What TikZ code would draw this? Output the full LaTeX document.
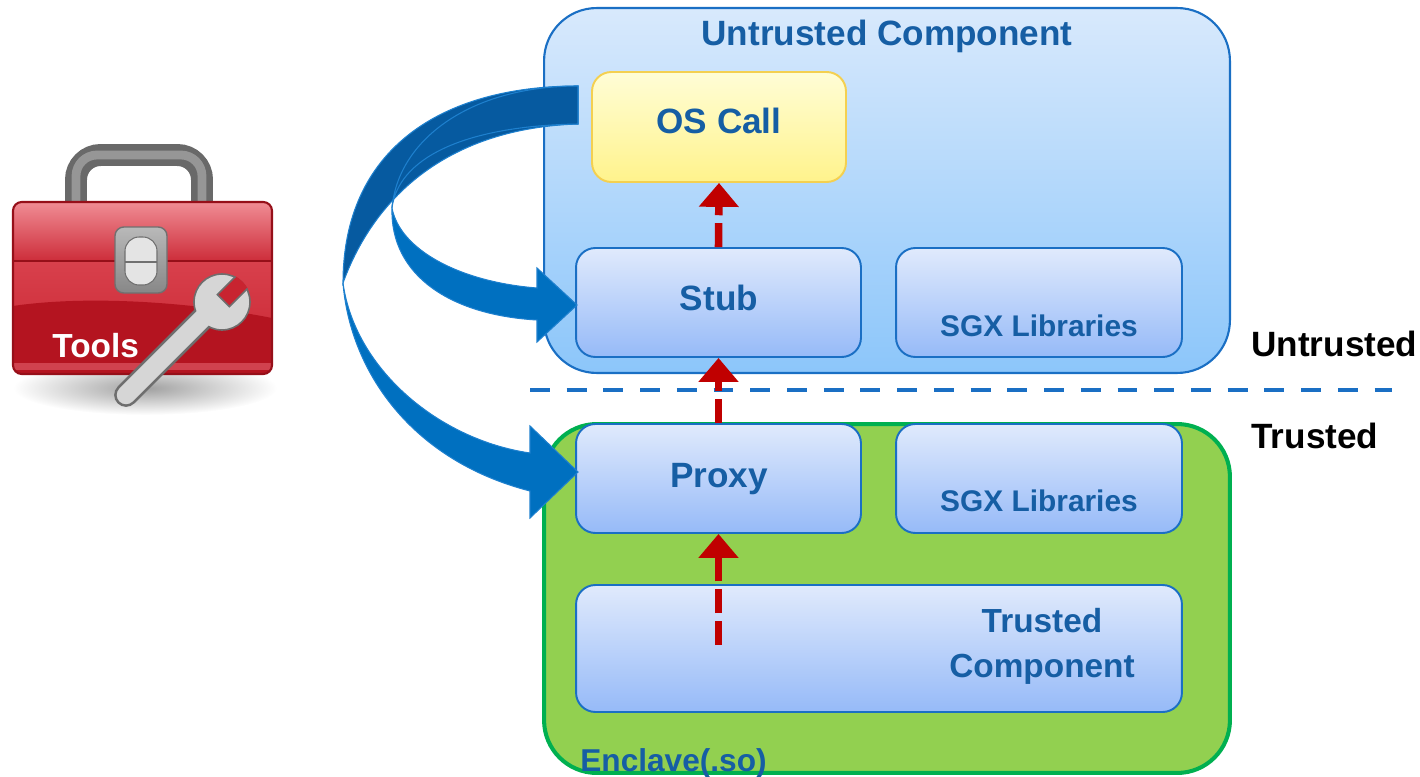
\documentclass[tikz,border=0pt]{standalone}
\usepackage{fontspec}
\setmainfont{Liberation Sans}
\usepackage{xcolor}
\usetikzlibrary{positioning,arrows.meta}

\definecolor{txtblue}{RGB}{22,94,164}
\definecolor{edgeblue}{RGB}{26,111,196}
\definecolor{cmpTop}{RGB}{216,233,252}
\definecolor{cmpBot}{RGB}{140,198,250}
\definecolor{boxTop}{RGB}{224,234,252}
\definecolor{boxBot}{RGB}{150,186,248}
\definecolor{callTop}{RGB}{255,253,214}
\definecolor{callBot}{RGB}{255,243,140}
\definecolor{callEdge}{RGB}{244,208,80}
\definecolor{encFill}{RGB}{146,208,80}
\definecolor{encEdge}{RGB}{0,176,80}
\definecolor{callRed}{RGB}{192,0,0}
\definecolor{flowFront}{RGB}{0,112,192}
\definecolor{flowBack}{RGB}{6,90,160}
\definecolor{flowEdge}{RGB}{30,128,206}
\definecolor{tbLidTop}{RGB}{240,140,148}
\definecolor{tbLidBot}{RGB}{205,45,58}
\definecolor{tbBodyTop}{RGB}{216,64,76}
\definecolor{tbBody}{RGB}{200,36,48}
\definecolor{tbDark}{RGB}{180,20,32}
\definecolor{tbLow}{RGB}{208,66,78}
\definecolor{tbEdge}{RGB}{150,15,25}
\definecolor{tbHandle}{RGB}{105,105,105}
\definecolor{tbHandleHi}{RGB}{150,150,150}
\definecolor{latchEdge}{RGB}{112,112,112}
\definecolor{latchTop}{RGB}{185,185,185}
\definecolor{latchBot}{RGB}{135,135,135}
\definecolor{latchIn}{RGB}{228,228,228}
\definecolor{wrEdge}{RGB}{110,110,110}
\definecolor{wrFill}{RGB}{214,214,214}

\begin{document}
\begin{tikzpicture}[x=0.02cm,y=-0.02cm,>=Latex,
  font=\bfseries\fontsize{20}{24}\selectfont,
  zone/.style={draw=edgeblue, line width=1.2pt, rounded corners=30pt, minimum width=13.72cm, inner sep=0pt},
  part/.style={draw=edgeblue, line width=1.1pt, rounded corners=11pt, top color=boxTop, bottom color=boxBot, minimum height=2.18cm, inner sep=0pt},
  lbl/.style={text=txtblue, anchor=base, inner sep=0pt},
  side/.style={anchor=base west, inner sep=0pt},
  hop/.style={draw=callRed, line width=4.3pt, dash pattern=on 13.6pt off 4.5pt, -{Triangle[width=22pt,length=13.6pt]}},
  flow/.style={draw=flowEdge, line width=0.6pt, fill=flowFront},
  flowback/.style={draw=flowEdge, line width=0.6pt, fill=flowBack}]

\useasboundingbox (0,0) rectangle (1420,777);

% tool box
\draw[line width=12.5pt, color=tbHandle, rounded corners=14pt] (76,215) -- (76,155) -- (202,155) -- (202,215);
\draw[line width=5pt, color=tbHandleHi, rounded corners=12pt] (76,215) -- (76,155) -- (202,155) -- (202,215);
\shade[inner color=gray!75, outer color=white] (145,388) ellipse (132 and 27);
\begin{scope}
  \clip[rounded corners=5pt] (13,202) rectangle (272,374);
  \shade[top color=tbLidTop, bottom color=tbLidBot] (13,202) rectangle (272,261);
  \shade[top color=tbBodyTop, bottom color=tbBody] (13,261) rectangle (272,374);
  \fill[tbDark] (13,306) .. controls (80,296) and (180,300) .. (272,318) -- (272,374) -- (13,374) -- cycle;
  \fill[tbLow] (13,363) rectangle (272,370);
\end{scope}
\draw[tbEdge, line width=1.2pt, rounded corners=5pt] (13,202) rectangle (272,374);
\draw[tbEdge, line width=1.2pt] (13,261) -- (272,261);
\draw[draw=latchEdge, line width=0.8pt, top color=latchTop, bottom color=latchBot, rounded corners=5pt] (115,227) rectangle (167,293);
\draw[draw=latchEdge, line width=0.6pt, fill=latchIn, rounded corners=8pt] (125,237) rectangle (157,285);
\draw[latchEdge, line width=0.6pt] (125,262) -- (157,262);
\node[anchor=base west, text=white, inner sep=0pt, font=\bfseries\fontsize{19}{23}\selectfont] (tools) at (52,357) {Tools};

% wrench
\draw[wrEdge, line width=13.5pt, line cap=round] (126,395) -- (210,311);
\filldraw[fill=wrFill, draw=wrEdge, line width=0.9pt] (222,302) circle (28);
\draw[wrFill, line width=10.5pt, line cap=round] (126,395) -- (210,311);
\begin{scope}
  \clip (222,302) circle (29);
  \fill[tbBody] (229.4,306.6) -- (256.3,279.7) -- (244.3,267.7) -- (217.4,294.6) -- cycle;
  \draw[wrEdge, line width=0.9pt] (256.3,279.7) -- (229.4,306.6) -- (217.4,294.6) -- (244.3,267.7);
\end{scope}

% components
\node[zone, top color=cmpTop, bottom color=cmpBot, minimum height=7.3cm] (untrusted) at (887,190.5) {};
\node[zone, draw=encEdge, line width=2.3pt, fill=encFill, minimum height=6.98cm] (enclave) at (887,598.5) {};
\node[part, draw=callEdge, top color=callTop, bottom color=callBot, minimum width=5.08cm, minimum height=2.2cm] (oscall) at (719,127) {};
\node[part, minimum width=5.7cm] (stub) at (718.5,302.5) {};
\node[part, minimum width=5.72cm] (sgxu) at (1039,302.5) {};
\node[part, minimum width=5.7cm] (proxy) at (718.5,478.5) {};
\node[part, minimum width=5.72cm] (sgxt) at (1039,478.5) {};
\node[part, minimum width=12.12cm, minimum height=2.54cm] (tcomp) at (879,648.5) {};

\node[lbl] (untrustedtxt) at (887,46) {Untrusted Component};
\node[lbl] (oscalltxt) at (719,133) {OS Call};
\node[lbl] (stubtxt) at (719,310) {Stub};
\node[lbl] (proxytxt) at (719,487) {Proxy};
\node[lbl, font=\bfseries\fontsize{17}{20}\selectfont] (sgxutxt) at (1039,336) {SGX Libraries};
\node[lbl, font=\bfseries\fontsize{17}{20}\selectfont] (sgxttxt) at (1039,511) {SGX Libraries};
\node[lbl, anchor=center, align=center, font=\bfseries\fontsize{19}{25.5}\selectfont] (tcomptxt) at (1042,646) {Trusted\\Component};
\node[lbl, anchor=base west, font=\bfseries\fontsize{18}{22}\selectfont] (enclavetxt) at (580,771) {Enclave(.so)};

% boundary
\coordinate (divl) at (530,390);
\coordinate (divr) at (1392,390);
\draw[edgeblue, line width=2.3pt, dash pattern=on 11.3pt off 9.6pt] (divl) -- (divr);
\node[side] (untrustedside) at (1251,356) {Untrusted};
\node[side] (trustedside) at (1251,448) {Trusted};

% call path
\coordinate (tcall) at (718.5,645);
\draw[hop] (tcall) -- (proxy.south);
\draw[hop] (proxy.north) -- (stub.south);
\draw[hop] (stub.north) -- (oscall.south);

% tool flow
\draw[flowback] (578,86) .. controls (440,86) and (343,150) .. (343,283)
  .. controls (375,195) and (450,128) .. (578,124) -- cycle;
\draw[flow] (343,283) .. controls (350,370) and (410,460) .. (530,491)
  -- (530,518) -- (578,472) -- (530,426) -- (530,453)
  .. controls (440,440) and (355,370) .. (343,283) -- cycle;
\draw[flowback] (578,86) .. controls (470,86) and (398,140) .. (392,208)
  .. controls (398,160) and (460,126) .. (578,124) -- cycle;
\draw[flow] (392,208) .. controls (390,275) and (450,315) .. (537,320)
  -- (537,342) -- (577,305) -- (537,268) -- (537,288)
  .. controls (460,282) and (400,250) .. (392,208) -- cycle;
\end{tikzpicture}
\end{document}
